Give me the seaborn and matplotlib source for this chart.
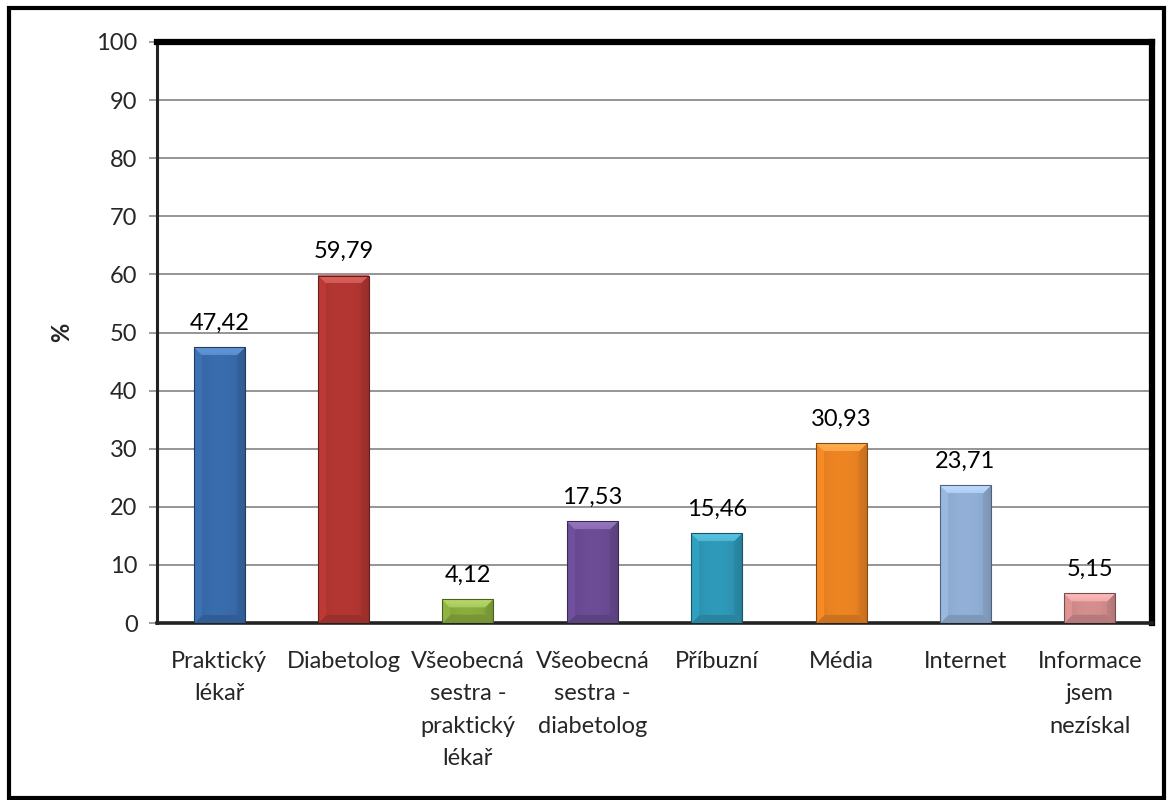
import numpy as np
import pandas as pd
import matplotlib
matplotlib.use("Agg")
import matplotlib.pyplot as plt
import seaborn as sns
from matplotlib.colors import to_rgb
from matplotlib.patches import Rectangle

categories = [
    "Praktický\nlékař",
    "Diabetolog",
    "Všeobecná\nsestra -\npraktický\nlékař",
    "Všeobecná\nsestra -\ndiabetolog",
    "Příbuzní",
    "Média",
    "Internet",
    "Informace\njsem\nnezískal",
]
values = [47.42, 59.79, 4.12, 17.53, 15.46, 30.93, 23.71, 5.15]
colors = ["#3A6DAE", "#B53733", "#8BAE3E", "#6C4D96", "#2F9AB9",
          "#EE8523", "#93B1D8", "#D58F8E"]
yticks = list(range(0, 101, 10))

df = pd.DataFrame({"kategorie": categories, "hodnota": values})

sns.set_theme(style="white")
plt.rcParams["font.family"] = ["Lato", "DejaVu Sans"]

W, H = 1167, 800
fig = plt.figure(figsize=(W / 100, H / 100), dpi=100)
ax_left, ax_right, ax_top, ax_bottom = 157, 1152, 42, 623
ax = fig.add_axes([ax_left / W, 1 - ax_bottom / H,
                   (ax_right - ax_left) / W, (ax_bottom - ax_top) / H])

sns.barplot(data=df, x="kategorie", y="hodnota", hue="kategorie",
            palette=colors, legend=False, width=0.41, saturation=1,
            ax=ax, zorder=3)

ax.set_ylim(0, 100)
ax.set_xlim(-0.5, len(categories) - 0.5)

px_per_x = (ax_right - ax_left) / len(categories)
px_per_y = (ax_bottom - ax_top) / 100.0


def bevel_image(rgb, wpx, hpx, b=8.0):
    """Shaded bar face: light top bevel, soft sides, darker lower rim."""
    nx, ny = max(int(wpx), 2), max(int(hpx), 2)
    xs = (np.arange(nx) + 0.5)
    ys = (np.arange(ny) + 0.5)          # 0 at top
    X, Y = np.meshgrid(xs, ys)
    dl, dr = X, nx - X
    dt, db = Y, ny - Y
    dmin = np.minimum(np.minimum(dl, dr), np.minimum(dt, db))
    u = (X / nx) * 2 - 1
    f = 1 - 0.10 * np.abs(u) ** 2
    inside = dmin < b
    ramp = dmin / b  # 0 at the edge, 1 at the inner bevel line
    top = inside & (dt == dmin)
    left = inside & (dl == dmin) & ~top
    right = inside & (dr == dmin) & ~top
    bottom = inside & (db == dmin) & ~top & ~left & ~right
    f = np.where(top, 1.22 - 0.12 * ramp, f)
    f = np.where(left, 1.04, f)
    f = np.where(right, 0.84 + 0.06 * ramp, f)
    f = np.where(bottom, 0.86, f)
    img = np.clip(np.array(rgb)[None, None, :] * f[:, :, None], 0, 1)
    img[top] = np.clip(img[top] * 0.85 + 0.15, 0, 1)
    return img[::-1]  # origin lower


for patch, col in zip(ax.patches, colors):
    x0, y0 = patch.get_x(), patch.get_y()
    w, h = patch.get_width(), patch.get_height()
    base = to_rgb(col)
    img = bevel_image(base, w * px_per_x, h * px_per_y)
    ax.imshow(img, extent=[x0, x0 + w, y0, y0 + h], aspect="auto",
              origin="lower", zorder=4, interpolation="bilinear")
    patch.set_edgecolor(tuple(np.array(base) * 0.55))
    patch.set_linewidth(0.8)
    patch.set_zorder(5)
    patch.set_facecolor("none")
    ax.text(x0 + w / 2, y0 + h + 2.3, f"{h:.2f}".replace(".", ","),
            ha="center", va="bottom", fontsize=17, color="black", zorder=6)

ax.set_yticks(yticks)
ax.set_yticklabels([str(t) for t in yticks])
ax.yaxis.grid(True, color="#8C8C8C", linewidth=1.3, zorder=0)
ax.set_axisbelow(True)

ax.tick_params(axis="y", left=True, length=6, width=1.2, color="#8C8C8C",
               labelsize=17, pad=8)
ax.tick_params(axis="x", bottom=False, labelsize=17, pad=14)
for lbl in ax.get_xticklabels():
    lbl.set_linespacing(1.68)
    lbl.set_va("top")

ax.set_xlabel("")
ax.set_ylabel("%", fontsize=17, fontweight="bold")
ax.yaxis.set_label_coords((73 - ax_left) / (ax_right - ax_left), 0.5)

for side in ["top", "right"]:
    ax.spines[side].set_color("black")
    ax.spines[side].set_linewidth(4.5)
ax.spines["left"].set_color("#222222")
ax.spines["left"].set_linewidth(2.2)
ax.spines["bottom"].set_color("#222222")
ax.spines["bottom"].set_linewidth(2.6)

# outer chart frame
fig.patches.append(Rectangle((9 / W, 0.002), 1 - 12 / W, 1 - 10 / H,
                             transform=fig.transFigure, fill=False,
                             edgecolor="black", linewidth=3))

fig.savefig("out.png", dpi=100)
